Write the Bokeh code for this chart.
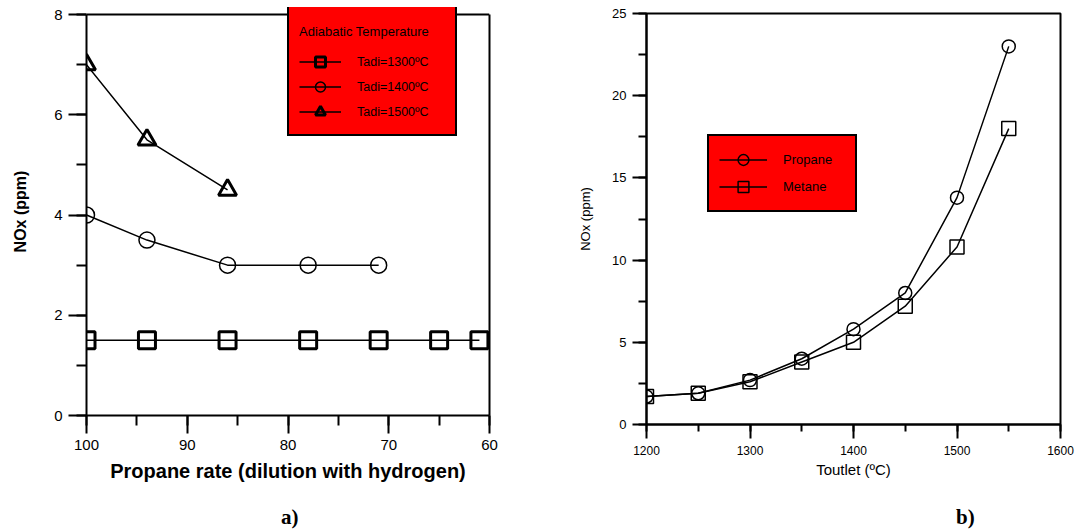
from bokeh.plotting import figure
from bokeh.layouts import row, column
from bokeh.models import (Range1d, SingleIntervalTicker, FixedTicker, Legend, LegendItem,
                          Span, LinearAxis, Div)
from bokeh.embed import file_html
from bokeh.resources import INLINE

# ---------------- data: panel a) ----------------
rate_1300 = [100, 94, 86, 78, 71, 65, 61]
nox_1300 = [1.5, 1.5, 1.5, 1.5, 1.5, 1.5, 1.5]
rate_1400 = [100, 94, 86, 78, 71]
nox_1400 = [4.0, 3.5, 3.0, 3.0, 3.0]
rate_1500 = [100, 94, 86]
nox_1500 = [7.0, 5.5, 4.5]
labels_a = ["Tadi=1300ºC", "Tadi=1400ºC", "Tadi=1500ºC"]

# ---------------- data: panel b) ----------------
t_outlet = [1200, 1250, 1300, 1350, 1400, 1450, 1500, 1550]
nox_propane = [1.7, 1.9, 2.7, 4.0, 5.8, 8.0, 13.8, 23.0]
nox_metane = [1.7, 1.9, 2.6, 3.8, 5.0, 7.2, 10.8, 18.0]
labels_b = ["Propane", "Metane"]

panel_tags = ["a)", "b)"]

FONT = "Liberation Sans"
SERIF = "Liberation Serif"


def style_axis(ax, tick_out, minor_out, label_size, title_size, title_style,
               label_standoff, title_standoff):
    ax.axis_line_width = 2
    ax.axis_line_color = "black"
    ax.major_tick_in = 0
    ax.major_tick_out = tick_out
    ax.minor_tick_in = 0
    ax.minor_tick_out = minor_out
    ax.major_tick_line_width = 2
    ax.minor_tick_line_width = 2
    ax.major_tick_line_color = "black"
    ax.minor_tick_line_color = "black"
    ax.major_label_text_font = FONT
    ax.major_label_text_font_size = label_size
    ax.major_label_text_color = "black"
    ax.axis_label_text_font = FONT
    ax.axis_label_text_font_size = title_size
    ax.axis_label_text_font_style = title_style
    ax.axis_label_text_color = "black"
    ax.major_label_standoff = label_standoff
    ax.axis_label_standoff = title_standoff


# ================= panel a) =================
# frame starts 7px above the "8" line so that the legend box (which rises above the
# plot box in the reference) is not clipped; the visible box is drawn with a span/axis.
p1 = figure(width=568, height=504, x_range=Range1d(100, 60), y_range=Range1d(0, 8.14),
            output_backend="svg", toolbar_location=None,
            min_border_left=86, min_border_right=79, min_border_top=7, min_border_bottom=89,
            x_axis_label="Propane rate (dilution with hydrogen)", y_axis_label="NOx (ppm)")
p1.grid.visible = False
p1.outline_line_color = None
p1.xaxis.ticker = SingleIntervalTicker(interval=10, num_minor_ticks=2)
p1.yaxis.ticker = SingleIntervalTicker(interval=2, num_minor_ticks=2)
p1.yaxis.bounds = (0, 8)
style_axis(p1.xaxis[0], 18, 10, "15px", "20px", "bold", 6, 7)
style_axis(p1.yaxis[0], 18, 10, "15px", "16px", "bold", 6, 22)

right_ax = LinearAxis(ticker=FixedTicker(ticks=[]), bounds=(0, 8), axis_line_width=2,
                      axis_line_color="black", major_tick_out=0, major_tick_in=0,
                      minor_tick_out=0, minor_tick_in=0, major_label_text_font_size="0px")
p1.add_layout(right_ax, "right")
p1.add_layout(Span(location=8, dimension="width", line_color="black", line_width=2))

l13 = p1.line(rate_1300, nox_1300, line_color="black", line_width=1.5)
m13 = p1.scatter(rate_1300, nox_1300, marker="square", size=17, line_color="black",
                 line_width=3, fill_color=None)
l14 = p1.line(rate_1400, nox_1400, line_color="black", line_width=1.5)
m14 = p1.scatter(rate_1400, nox_1400, marker="circle", size=16, line_color="black",
                 line_width=1.5, fill_color=None)
l15 = p1.line(rate_1500, nox_1500, line_color="black", line_width=1.5)
m15 = p1.scatter(rate_1500, nox_1500, marker="triangle", size=18, line_color="black",
                 line_width=3, fill_color=None)

leg1 = Legend(items=[LegendItem(label=labels_a[0], renderers=[l13, m13]),
                     LegendItem(label=labels_a[1], renderers=[l14, m14]),
                     LegendItem(label=labels_a[2], renderers=[l15, m15])],
              location=(201, 279), title="\nAdiabatic Temperature",
              background_fill_color="red", background_fill_alpha=1,
              border_line_color="black", border_line_width=2, border_line_alpha=1,
              padding=10, spacing=0, glyph_height=25, glyph_width=42,
              label_standoff=16, label_width=88, margin=0,
              label_text_font=FONT, label_text_font_size="12.5px", label_text_color="black",
              title_text_font=FONT, title_text_font_size="13px", title_text_color="black",
              title_text_font_style="normal", title_text_line_height=0.9, title_standoff=10)
p1.add_layout(leg1)

# ================= panel b) =================
p2 = figure(width=510, height=504, x_range=Range1d(1200, 1600), y_range=Range1d(0, 25),
            output_backend="svg", toolbar_location=None,
            min_border_left=78, min_border_right=18, min_border_top=13, min_border_bottom=80,
            x_axis_label="Toutlet (ºC)", y_axis_label="NOx (ppm)")
p2.grid.visible = False
p2.outline_line_color = "black"
p2.outline_line_width = 2
p2.outline_line_alpha = 1
p2.xaxis.ticker = SingleIntervalTicker(interval=100, num_minor_ticks=2)
p2.yaxis.ticker = SingleIntervalTicker(interval=5, num_minor_ticks=2)
style_axis(p2.xaxis[0], 14, 7, "12px", "15px", "normal", 7, 3)
style_axis(p2.yaxis[0], 14, 8, "13px", "13px", "normal", 6, 16)

lp = p2.line(t_outlet, nox_propane, line_color="black", line_width=1.5)
mp = p2.scatter(t_outlet, nox_propane, marker="circle", size=13, line_color="black",
                line_width=1.5, fill_color=None)
lm = p2.line(t_outlet, nox_metane, line_color="black", line_width=1.5)
mm = p2.scatter(t_outlet, nox_metane, marker="square", size=14, line_color="black",
                line_width=1.5, fill_color=None)

leg2 = Legend(items=[LegendItem(label=labels_b[0], renderers=[lp, mp]),
                     LegendItem(label=labels_b[1], renderers=[lm, mm])],
              location=(61, 212),
              background_fill_color="red", background_fill_alpha=1,
              border_line_color="black", border_line_width=2, border_line_alpha=1,
              padding=10, spacing=0, glyph_height=27, glyph_width=48,
              label_standoff=16, label_width=62, margin=0,
              label_text_font=FONT, label_text_font_size="13px", label_text_color="black")
p2.add_layout(leg2)

# ================= panel tags below the plots =================
tags = Div(width=1078, height=26, margin=0, text=(
    '<div style="position:relative;width:1078px;height:26px;'
    'font-family:\'Liberation Serif\',serif;font-weight:bold;font-size:21px;'
    'line-height:21px;color:black">'
    f'<span style="position:absolute;left:281px;top:3px">{panel_tags[0]}</span>'
    f'<span style="position:absolute;left:956px;top:3px">{panel_tags[1]}</span>'
    '</div>'))

layout = column(row(column(p1), column(p2), spacing=0), tags, spacing=0)
open("out.html", "w").write(file_html(layout, INLINE))
